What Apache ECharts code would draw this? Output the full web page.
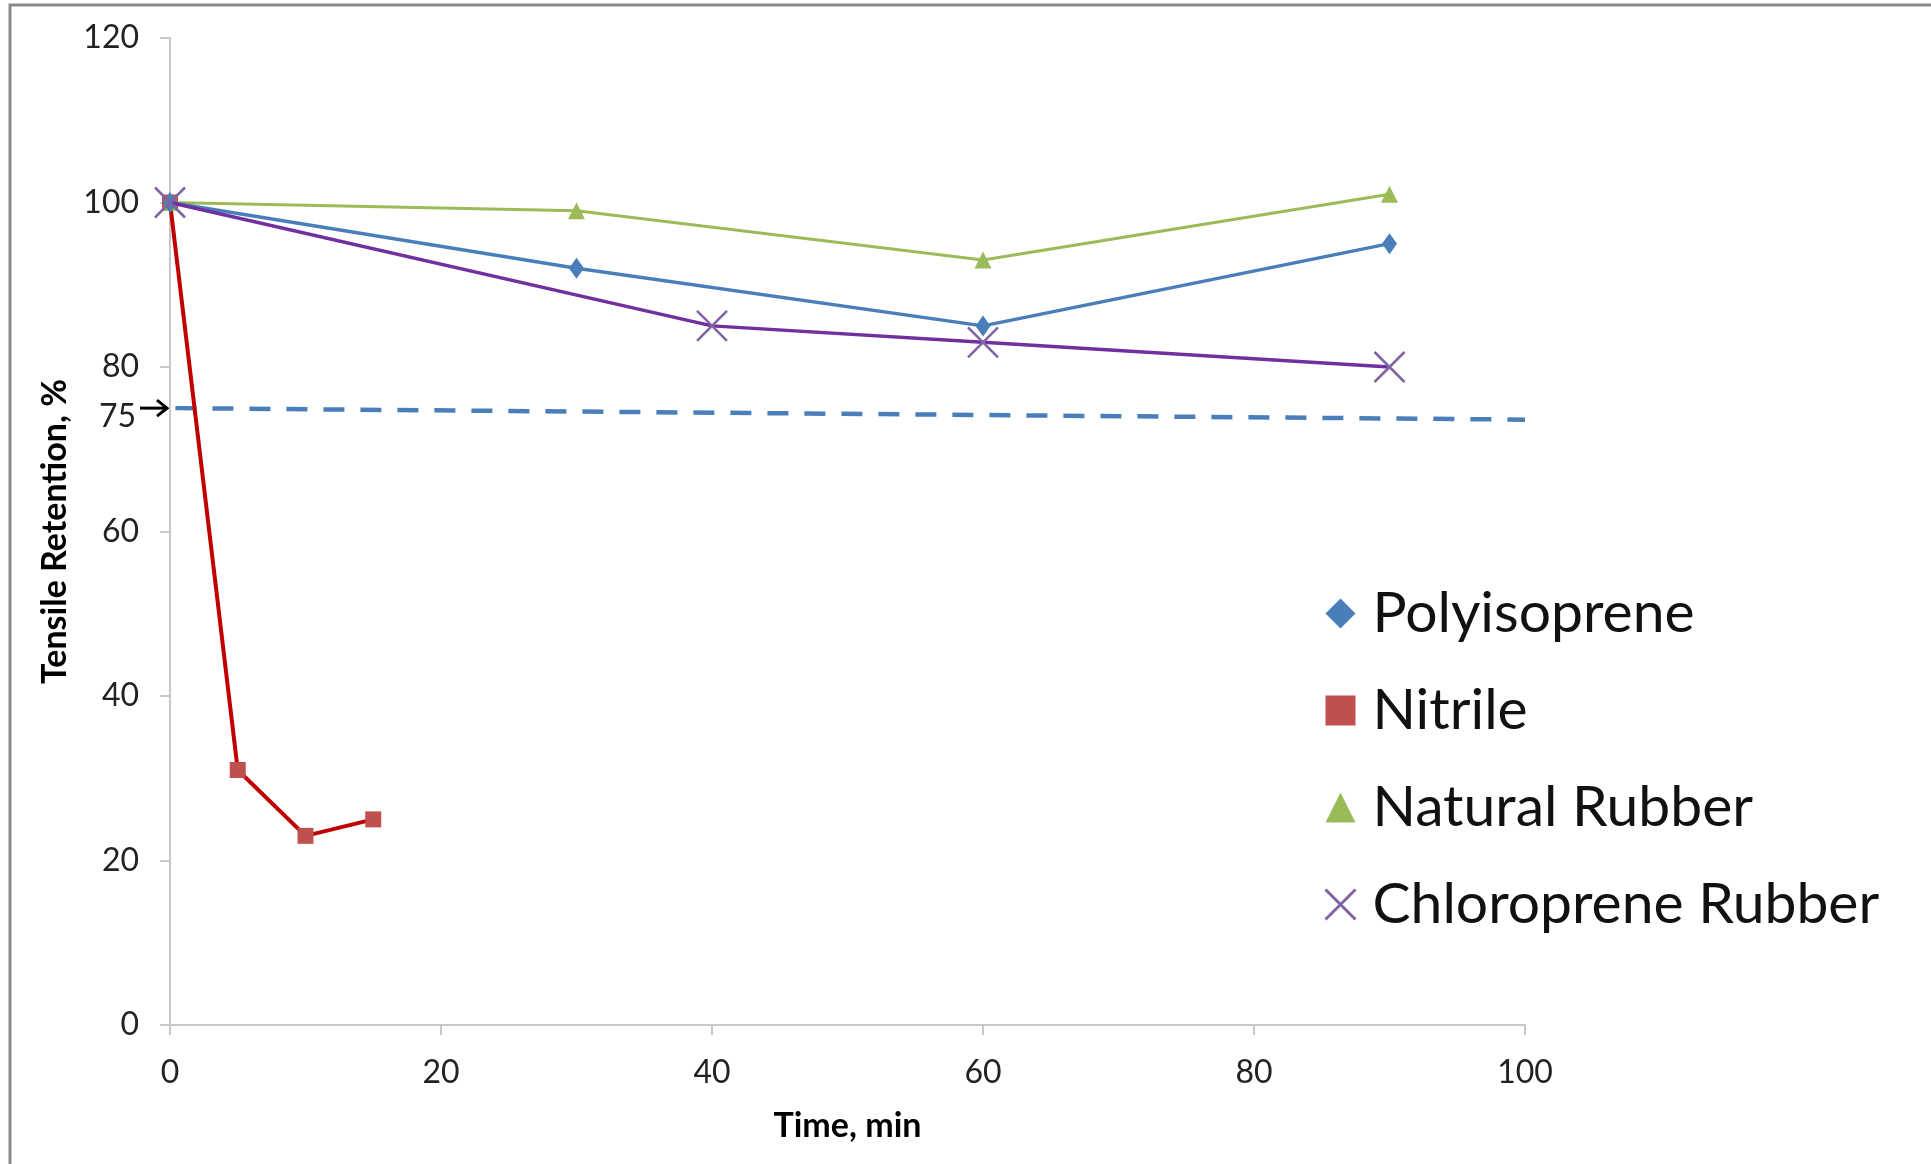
<!DOCTYPE html>
<html>
<head>
<meta charset="utf-8">
<script src="https://cdn.jsdelivr.net/npm/echarts@6/dist/echarts.min.js"></script>
<style>
  html, body { margin: 0; padding: 0; background: #fff; }
  #chart { width: 1931px; height: 1164px; }
</style>
</head>
<body>
<div id="chart"></div>
<script>
// data
var polyisoprene = [[0, 100], [30, 92], [60, 85], [90, 95]];
var nitrile = [[0, 100], [5, 31], [10, 23], [15, 25]];
var naturalRubber = [[0, 100], [30, 99], [60, 93], [90, 101]];
var chloroprene = [[0, 100], [40, 85], [60, 83], [90, 80]];
var limitLine = [[0.4, 75], [100, 73.6]];
var limitValue = 75;

var FONT = 'Lato';
var crossPath = 'path://M0,0L10,10M10,0L0,10';

var chart = echarts.init(document.getElementById('chart'));

var option = {
    backgroundColor: '#fff',
    animation: false,
    textStyle: { fontFamily: FONT },
    grid: { left: 170, right: 406, top: 38, bottom: 139, containLabel: false },
    legend: {
        orient: 'vertical',
        left: 1318,
        top: 580,
        itemGap: 40,
        itemWidth: 30,
        itemHeight: 30,
        textStyle: { fontSize: 57, color: '#111', fontFamily: FONT, padding: [0, 0, 0, 12] },
        data: [
            { name: 'Polyisoprene', icon: 'diamond', itemStyle: { color: '#4a7ebb' } },
            { name: 'Nitrile', icon: 'rect', itemStyle: { color: '#c0504d' } },
            { name: 'Natural Rubber', icon: 'triangle', itemStyle: { color: '#9bbb59' } },
            { name: 'Chloroprene Rubber', icon: crossPath, itemStyle: { color: 'none', borderColor: '#8064a2', borderWidth: 3 } }
        ]
    },
    xAxis: {
        type: 'value',
        min: 0, max: 100, interval: 20,
        name: 'Time, min',
        nameLocation: 'middle',
        nameGap: 84,
        nameTextStyle: { fontSize: 34, fontWeight: 'bold', color: '#000', fontFamily: FONT },
        axisLine: { show: true, onZero: false, lineStyle: { color: '#c8c8c8', width: 2 } },
        axisTick: { show: true, length: 10, lineStyle: { color: '#c8c8c8', width: 2 } },
        axisLabel: { fontSize: 32, color: '#222', margin: 32 },
        splitLine: { show: false }
    },
    yAxis: {
        type: 'value',
        min: 0, max: 120, interval: 20,
        name: 'Tensile Retention, %',
        nameLocation: 'middle',
        nameGap: 96,
        nameTextStyle: { fontSize: 34, fontWeight: 'bold', color: '#000', fontFamily: FONT },
        axisLine: { show: true, lineStyle: { color: '#c8c8c8', width: 2 } },
        axisTick: { show: true, length: 10, lineStyle: { color: '#c8c8c8', width: 2 } },
        axisLabel: { fontSize: 32, color: '#222', margin: 31 },
        splitLine: { show: false }
    },
    series: [
        {
            name: 'limit',
            type: 'line',
            data: limitLine,
            symbol: 'none',
            silent: true,
            lineStyle: { color: '#4a7ebb', width: 4.5, type: [21, 16] },
            z: 1
        },
        {
            name: 'Nitrile',
            type: 'line',
            data: nitrile,
            symbol: 'rect',
            symbolSize: 16,
            itemStyle: { color: '#c0504d' },
            lineStyle: { color: '#c00000', width: 4 },
            z: 2
        },
        {
            name: 'Natural Rubber',
            type: 'line',
            data: naturalRubber,
            symbol: 'triangle',
            symbolSize: [17, 17],
            itemStyle: { color: '#9bbb59' },
            lineStyle: { color: '#9bbb59', width: 3 },
            z: 3
        },
        {
            name: 'Polyisoprene',
            type: 'line',
            data: polyisoprene,
            symbol: 'diamond',
            symbolSize: [15, 21],
            itemStyle: { color: '#4a7ebb' },
            lineStyle: { color: '#4a7ebb', width: 3.5 },
            z: 4
        },
        {
            name: 'Chloroprene Rubber',
            type: 'line',
            data: chloroprene,
            symbol: crossPath,
            symbolSize: 30,
            itemStyle: { color: 'none', borderColor: '#8064a2', borderWidth: 2.5 },
            lineStyle: { color: '#7030a0', width: 3.5 },
            z: 5
        }
    ]
};

chart.setOption(option);

// "75 ->" annotation beside the y axis, placed through the axis scale
var p = chart.convertToPixel({ gridIndex: 0 }, [0, limitValue]);
chart.setOption({
    graphic: [
        {
            type: 'rect',
            shape: { x: 10, y: 5, width: 2000, height: 1300 },
            style: { fill: 'none', stroke: '#8a8a8a', lineWidth: 3 },
            silent: true
        },
        {
            type: 'text',
            x: p[0] - 34,
            y: p[1] + 9,
            style: { text: String(limitValue), font: '32px Lato', fill: '#222', align: 'right', verticalAlign: 'middle' }
        },
        {
            type: 'polyline',
            shape: { points: [[p[0] - 30, p[1]], [p[0] - 3, p[1]]] },
            style: { stroke: '#000', lineWidth: 3 }
        },
        {
            type: 'polyline',
            shape: { points: [[p[0] - 13, p[1] - 8], [p[0] - 3, p[1]], [p[0] - 13, p[1] + 8]] },
            style: { stroke: '#000', lineWidth: 3, fill: 'none' }
        }
    ]
});
</script>
</body>
</html>
